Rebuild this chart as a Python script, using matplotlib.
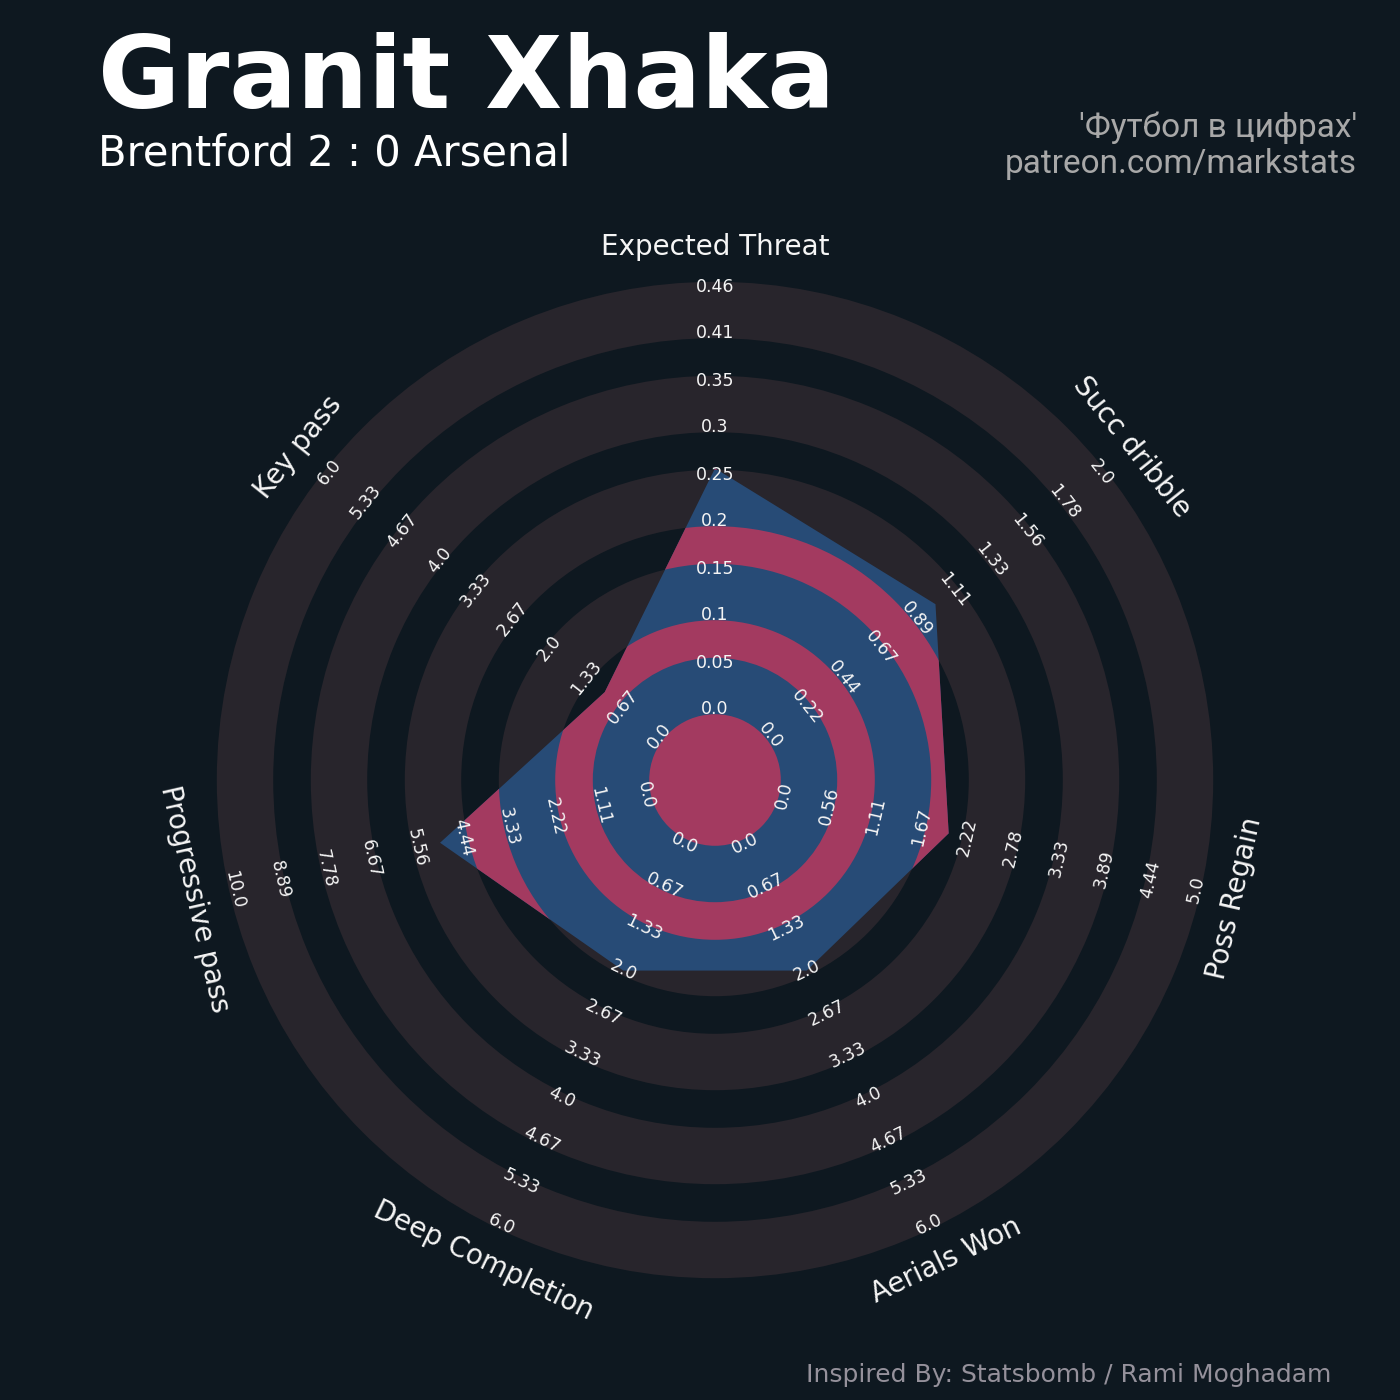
import numpy as np
import matplotlib.pyplot as plt
from matplotlib.patches import Wedge, Polygon

# radar data
params = ["Expected Threat", "Succ dribble", "Poss Regain", "Aerials Won",
          "Deep Completion", "Progressive pass", "Key pass"]
low = [0, 0, 0, 0, 0, 0, 0]
high = [0.456, 2, 5, 6, 6, 10, 6]
values = [0.26, 1, 2, 2, 2, 5, 1]

title = "Granit Xhaka"
subtitle = "Brentford 2 : 0 Arsenal"
credit = ["'Футбол в цифрах'", "patreon.com/markstats"]
endnote = "Inspired By: Statsbomb / Rami Moghadam"

BG = "#0e1820"
BAND = "#28252c"
FILL = "#274b76"
ALT = "#a33a60"
TEXT = "#f5f5f5"
GREY = "#a8a8a8"

n = len(params)
angles = np.pi / 2 - np.arange(n) * 2 * np.pi / n
r0, r1 = 1.5, 10.5  # radius of low / high value


def text_rot(a):
    rot = np.degrees(a) - 90
    while rot <= -90:
        rot += 180
    while rot > 90:
        rot -= 180
    return rot


fig = plt.figure(figsize=(14, 14), dpi=100, facecolor=BG)
ax = fig.add_axes([0, 0, 1, 1])
ax.set_facecolor(BG)
ax.set_xlim(-715 / 47, 685 / 47)
ax.set_ylim(-620 / 47, 780 / 47)
ax.axis("off")

# concentric bands
for k in range(5):
    inner = 1.4 + 2 * k
    ax.add_patch(Wedge((0, 0), inner + 1.2, 0, 360, width=1.2,
                       fc=BAND, ec="none", zorder=1))

# player polygon
rad = np.array([r0 + (v - lo) / (hi - lo) * (r1 - r0)
                for v, lo, hi in zip(values, low, high)])
pts = np.c_[rad * np.cos(angles), rad * np.sin(angles)]
poly = Polygon(pts, closed=True, fc=FILL, ec="none", zorder=2)
ax.add_patch(poly)

alt = [Wedge((0, 0), 1.4, 0, 360, fc=ALT, ec="none", zorder=3)]
for k in range(4):
    alt.append(Wedge((0, 0), 3.4 + 2 * k, 0, 360, width=0.8,
                     fc=ALT, ec="none", zorder=3))
for w in alt:
    ax.add_patch(w)
    w.set_clip_path(poly)

# range labels
for i in range(n):
    rot = text_rot(angles[i])
    ticks = np.linspace(low[i], high[i], 10)
    for k, t in enumerate(ticks):
        r = r0 + k * (r1 - r0) / 9
        ax.text(r * np.cos(angles[i]), r * np.sin(angles[i]), str(round(t, 2)),
                rotation=rot, rotation_mode="anchor", ha="center", va="center",
                fontsize=12.5, color=TEXT, zorder=5)
    rl = 11.35
    ax.text(rl * np.cos(angles[i]), rl * np.sin(angles[i]), params[i],
            rotation=rot, rotation_mode="anchor", ha="center", va="center",
            fontsize=20, color=TEXT, zorder=5)

# titles
fig.text(98 / 1400, 1 - 108 / 1400, title, fontsize=72, fontweight="bold",
         color="white", ha="left", va="baseline")
fig.text(98 / 1400, 1 - 165 / 1400, subtitle, fontsize=30,
         color="white", ha="left", va="baseline")
fig.text(1357 / 1400, 1 - 137 / 1400, credit[0], fontsize=24, family="Roboto",
         color=GREY, ha="right", va="baseline")
fig.text(1357 / 1400, 1 - 173 / 1400, credit[1], fontsize=24, family="Roboto",
         color=GREY, ha="right", va="baseline")
fig.text(1331 / 1400, 1 - 1382 / 1400, endnote, fontsize=18,
         color="#95919B", ha="right", va="baseline")

fig.savefig("out.png", dpi=100, facecolor=BG)
